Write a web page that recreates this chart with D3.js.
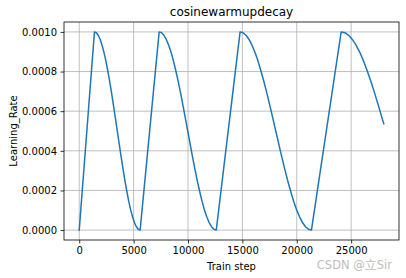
<!DOCTYPE html>
<html><head><meta charset="utf-8">
<script src="https://cdn.jsdelivr.net/npm/d3@7"></script>
<style>body{margin:0;background:#fff}svg{display:block}text{font-family:"DejaVu Sans",sans-serif}</style>
</head><body><svg id="c" width="406" height="278"></svg>
<script>
const trainSteps = [0,
  1400,1575,1750,1925,2100,2275,2450,2625,2800,2975,3150,3325,3500,3675,3850,4025,4200,4375,4550,4725,4900,5075,5250,5425,5600,
  7350,7569,7788,8006,8225,8444,8663,8881,9100,9319,9538,9756,9975,10194,10413,10631,10850,11069,11288,11506,11725,11944,12163,12381,12600,
  14790,15063,15337,15610,15883,16157,16430,16703,16977,17250,17523,17797,18070,18343,18617,18890,19163,19437,19710,19983,20257,20530,20803,21077,21350,
  24084,24426,24768,25109,25451,25793,26135,26477,26819,27160,27502,27844,28000];
const learningRate = [0,
  0.001,0.000996,0.000983,0.000962,0.000933,0.000897,0.000854,0.000804,0.00075,0.000691,0.000629,0.000565,0.0005,0.000435,0.000371,0.000309,0.00025,0.000196,0.000146,0.000103,0.000067,0.000038,0.000017,0.000004,0,
  0.001,0.000996,0.000983,0.000962,0.000933,0.000897,0.000854,0.000804,0.00075,0.000691,0.000629,0.000565,0.0005,0.000435,0.000371,0.000309,0.00025,0.000196,0.000146,0.000103,0.000067,0.000038,0.000017,0.000004,0,
  0.001,0.000996,0.000983,0.000962,0.000933,0.000897,0.000854,0.000804,0.00075,0.000691,0.000629,0.000565,0.0005,0.000435,0.000371,0.000309,0.00025,0.000196,0.000146,0.000103,0.000067,0.000038,0.000017,0.000004,0,
  0.001,0.000996,0.000983,0.000962,0.000933,0.000897,0.000854,0.000804,0.00075,0.000691,0.000629,0.000565,0.000536];
const xTicks = [0,5000,10000,15000,20000,25000];
const yTicks = [0,0.0002,0.0004,0.0006,0.0008,0.001];
const titleText = "cosinewarmupdecay";
const xLabel = "Train step";
const yLabel = "Learning_Rate";
const watermark = "CSDN @立Sir";

const svg = d3.select("#c");
const L=64, R=399, T=22, B=240;
const x = d3.scaleLinear().domain([-1400,29400]).range([L,R]);
const y = d3.scaleLinear().domain([-0.00005,0.00105]).range([B,T]);

// grid
svg.append("g").selectAll("line").data(xTicks).join("line")
  .attr("x1",d=>x(d)).attr("x2",d=>x(d)).attr("y1",T).attr("y2",B)
  .attr("stroke","#b0b0b0").attr("stroke-width",0.8);
svg.append("g").selectAll("line").data(yTicks).join("line")
  .attr("x1",L).attr("x2",R).attr("y1",d=>y(d)).attr("y2",d=>y(d))
  .attr("stroke","#b0b0b0").attr("stroke-width",0.8);

// line
const data = trainSteps.map((s,i)=>[s,learningRate[i]]);
svg.append("path").datum(data)
  .attr("d", d3.line().x(d=>x(d[0])).y(d=>y(d[1])))
  .attr("fill","none").attr("stroke","#1f77b4").attr("stroke-width",1.5)
  .attr("stroke-linejoin","round").attr("stroke-linecap","square");

// axes
const xa = svg.append("g").attr("transform",`translate(0,${B})`)
  .call(d3.axisBottom(x).tickValues(xTicks).tickFormat(d3.format("d")).tickSizeOuter(0).tickSize(3.5).tickPadding(3.5));
const ya = svg.append("g").attr("transform",`translate(${L},0)`)
  .call(d3.axisLeft(y).tickValues(yTicks).tickFormat(d3.format(".4f")).tickSizeOuter(0).tickSize(3.5).tickPadding(3.5));
[xa,ya].forEach(a=>{
  a.select(".domain").remove();
  a.selectAll("line").attr("stroke","#000").attr("stroke-width",0.8);
  a.selectAll("text").attr("font-size",10).attr("font-family","DejaVu Sans").attr("fill","#000");
});

// frame
svg.append("rect").attr("x",L).attr("y",T).attr("width",R-L).attr("height",B-T)
  .attr("fill","none").attr("stroke","#000").attr("stroke-width",0.8);

svg.append("text").attr("x",(L+R)/2).attr("y",16).attr("text-anchor","middle")
  .attr("font-size",12).text(titleText);
svg.append("text").attr("x",(L+R)/2).attr("y",270).attr("text-anchor","middle")
  .attr("font-size",10).text(xLabel);
svg.append("text").attr("transform",`translate(17,${(T+B)/2}) rotate(-90)`).attr("text-anchor","middle")
  .attr("font-size",10).text(yLabel);
svg.append("text").attr("x",392).attr("y",269).attr("text-anchor","end")
  .attr("font-size",11.5).attr("fill","#bdbdbd").attr("font-family","Noto Sans CJK SC, DejaVu Sans").text(watermark);
</script></body></html>
